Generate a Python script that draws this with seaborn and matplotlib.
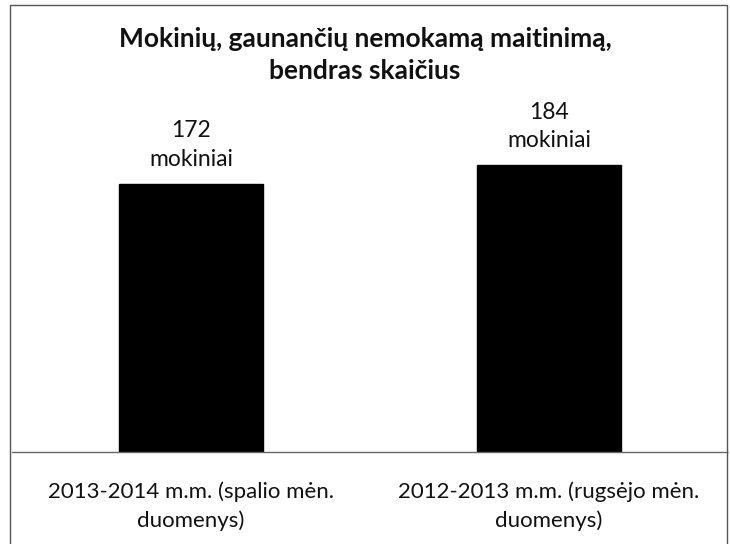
import matplotlib
matplotlib.use("Agg")
import matplotlib.pyplot as plt
import seaborn as sns
import pandas as pd
from matplotlib.patches import Rectangle

categories = ["2013-2014 m.m. (spalio mėn.\nduomenys)", "2012-2013 m.m. (rugsėjo mėn.\nduomenys)"]
values = [172, 184]
unit = "mokiniai"
title = "Mokinių, gaunančių nemokamą maitinimą,\nbendras skaičius"

sns.set_theme(style="white")
plt.rcParams['font.family'] = ['Lato', 'DejaVu Sans']

df = pd.DataFrame({"cat": categories, "val": values})

fig = plt.figure(figsize=(7.3, 5.44), dpi=100)
W, H = 730, 544
ax = fig.add_axes([12 / W, 1 - 452 / H, (728 - 12) / W, (452 - 100) / H])

sns.barplot(data=df, x="cat", y="val", color="black", width=0.4, ax=ax,
            saturation=1, edgecolor="black")

scale = 268 / 172
ax.set_ylim(0, 352 / scale)
ax.set_xlim(-0.5, 1.5)

for c in ax.containers:
    ax.bar_label(c, labels=[f"{v}\n{unit}" for v in values], padding=10,
                 fontsize=16.5, color="#111111", linespacing=1.45)

ax.set_yticks([])
ax.set_ylabel("")
ax.set_xlabel("")
ax.tick_params(axis="x", which="major", length=0, pad=21, labelsize=16, colors="#111111")
ax.set_xticks([0.5], minor=True)
ax.tick_params(axis="x", which="minor", length=9, width=0.8, color="#777777", direction="out")
for lbl in ax.get_xticklabels():
    lbl.set_linespacing(1.5)

for s in ["top", "left", "right"]:
    ax.spines[s].set_visible(False)
ax.spines["bottom"].set_linestyle((0, (2, 1)))
ax.spines["bottom"].set_color("#666666")
ax.spines["bottom"].set_linewidth(1.0)

fig.text(365 / W, 1 - 55 / H, title, ha="center", va="center", fontsize=19,
         fontweight="bold", color="#111111", linespacing=1.4)

fig.add_artist(Rectangle((10 / W, -0.02), (727 - 10) / W, 1 - 5 / H + 0.02,
                         transform=fig.transFigure, fill=False,
                         edgecolor="#555555", linewidth=1.0))

fig.savefig("out.png", dpi=100, facecolor="white")
